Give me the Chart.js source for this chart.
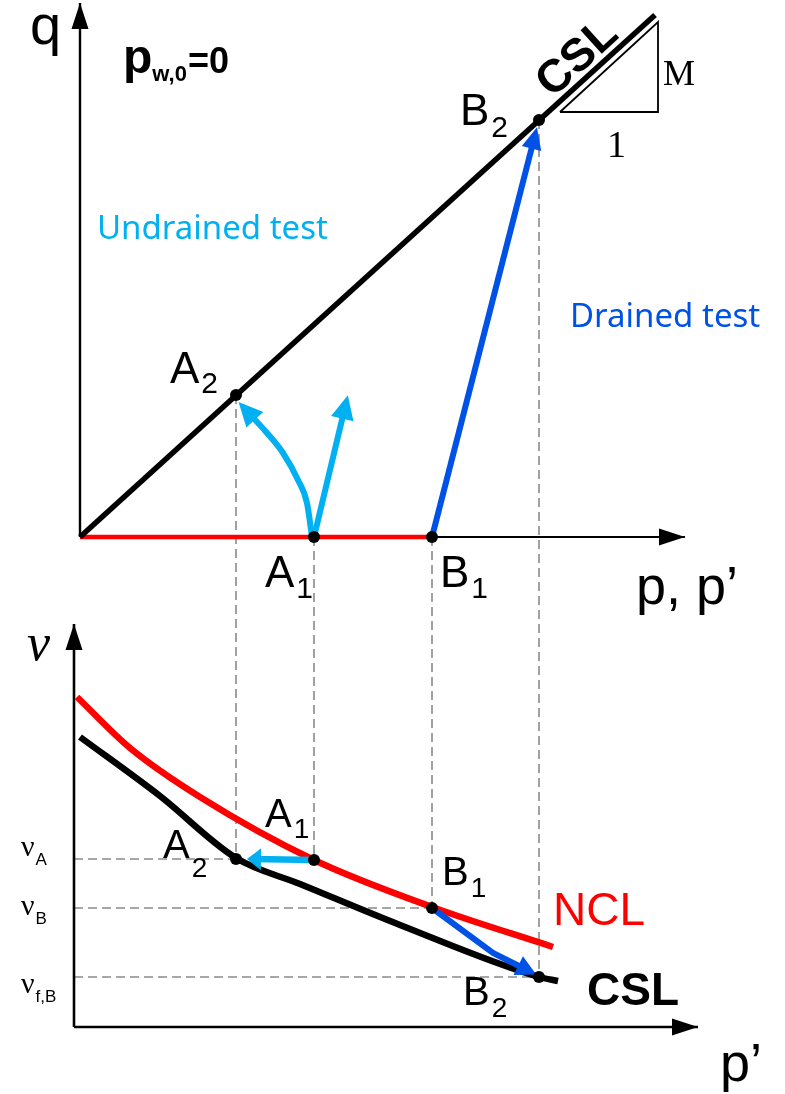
<!DOCTYPE html>
<html>
<head>
<meta charset="utf-8">
<script src="https://cdn.jsdelivr.net/npm/chart.js@4.4.1/dist/chart.umd.min.js"></script>
<style>
  html, body { margin: 0; padding: 0; background: #fff; }
  #wrap { position: relative; width: 785px; height: 1094px; }
</style>
</head>
<body>
<div id="wrap"><canvas id="chart" width="785" height="1094"></canvas></div>
<script>
'use strict'

/* ------------------------------ Data ------------------------------ */

// q - p plane (top panel)
const cslP = [0, 5.75]
const cslQ = [0, 5.22]
const isoP = [0, 3.52]
const isoQ = [0, 0]
const undrainedCurveP = [2.32, 2.27, 2.18, 2.03, 1.87, 1.64]
const undrainedCurveQ = [0, 0.34, 0.57, 0.84, 1.04, 1.29]
const undrainedAltP = [2.34, 2.66]
const undrainedAltQ = [0, 1.34]
const drainedP = [3.52, 4.55]
const drainedQ = [0, 4.02]
const slopeTriP = [4.80, 5.78, 5.78, 4.80]
const slopeTriQ = [4.25, 4.25, 5.15, 4.25]

// v - p' plane (bottom panel)
const nclP = [-0.03, 0.50, 1.20, 2.34, 3.52, 4.73]
const nclNu = [2.160, 2.058, 1.960, 1.834, 1.740, 1.660]
const cslNuP = [0.00, 0.80, 1.56, 2.20, 3.20, 4.59, 4.78]
const cslNu = [2.080, 1.962, 1.838, 1.786, 1.704, 1.600, 1.592]
const undrainedNuP = [2.34, 1.73]
const undrainedNu = [1.834, 1.836]
const drainedNuP = [3.52, 4.13, 4.49]
const drainedNu = [1.738, 1.648, 1.612]

// states A1, A2, B1, B2 in both planes
const stateNames = ['A1', 'A2', 'B1', 'B2']
const stateP = [2.34, 1.56, 3.52, 4.59]
const stateQ = [0, 1.42, 0, 4.17]
const stateNu = [1.834, 1.836, 1.738, 1.600]

// specific volume levels marked on the v axis
const nuLevelLabels = ['A', 'B', 'f,B']
const nuLevels = [1.836, 1.738, 1.600]
const nuLevelEnds = [1.56, 3.52, 4.59]

// axes
const qAxisP = [0, 0]
const qAxisQ = [0, 5.34]
const pAxisP = [0, 6.05]
const pAxisQ = [0, 0]
const nuAxisP = [-0.06, -0.06]
const nuAxisNu = [1.5, 2.306]
const pdAxisP = [-0.06, 6.18]
const pdAxisNu = [1.5, 1.5]

/* ------------------------------ Styles ------------------------------ */

const RED = '#ff0000'
const LIGHT_BLUE = '#00b0f0'
const BLUE = '#0052e6'
const GUIDE = '#8a8a8a'
const SANS = '"Liberation Sans", Arial, sans-serif'
const SERIF = '"Liberation Serif", "Times New Roman", serif'
const NOTO = '"Noto Sans", sans-serif'

/* ---------------------------------------------- */

function pts (xs, ys) {
  return xs.map((x, i) => ({ x: x, y: ys[i] }))
}

function line (xs, ys, axis, color, width, order, extra) {
  return Object.assign({
    data: pts(xs, ys),
    xAxisID: 'x',
    yAxisID: axis,
    borderColor: color,
    backgroundColor: color,
    borderWidth: width,
    pointRadius: 0,
    fill: false,
    tension: 0,
    order: order
  }, extra || {})
}

const axisArrow = { len: 26, half: 8.5, ext: 0 }

const datasets = []

// horizontal guides in the v - p' plane
nuLevels.forEach((lv, i) => {
  datasets.push(line([nuAxisP[0], nuLevelEnds[i]], [lv, lv], 'nu', GUIDE, 1.6, 20, { borderDash: [9, 5] }))
})

datasets.push(line(qAxisP, qAxisQ, 'q', '#000', 2.4, 18, { arrow: axisArrow }))
datasets.push(line(pAxisP, pAxisQ, 'q', '#000', 2.2, 18, { arrow: axisArrow }))
datasets.push(line(nuAxisP, nuAxisNu, 'nu', '#000', 2.6, 18, { arrow: axisArrow }))
datasets.push(line(pdAxisP, pdAxisNu, 'nu', '#000', 2.6, 18, { arrow: axisArrow }))

datasets.push(line(isoP, isoQ, 'q', RED, 4.5, 16))
datasets.push(line(cslP, cslQ, 'q', '#000', 5.5, 15))
datasets.push(line(slopeTriP, slopeTriQ, 'q', '#000', 1.8, 15))

datasets.push(line(cslNuP, cslNu, 'nu', '#000', 6.5, 15, { cubicInterpolationMode: 'monotone' }))
datasets.push(line(nclP, nclNu, 'nu', RED, 6.5, 14, { cubicInterpolationMode: 'monotone' }))

datasets.push(line(undrainedCurveP, undrainedCurveQ, 'q', LIGHT_BLUE, 6, 10, { cubicInterpolationMode: 'monotone', arrow: { len: 24, half: 11.5, ext: 8 } }))
datasets.push(line(undrainedAltP, undrainedAltQ, 'q', LIGHT_BLUE, 6, 10, { arrow: { len: 24, half: 11.5, ext: 8 } }))
datasets.push(line(drainedP, drainedQ, 'q', BLUE, 6, 10, { arrow: { len: 22, half: 10, ext: 8 } }))
datasets.push(line(undrainedNuP, undrainedNu, 'nu', LIGHT_BLUE, 6.5, 10, { arrow: { len: 14, half: 11, ext: 6 } }))
datasets.push(line(drainedNuP, drainedNu, 'nu', BLUE, 6, 10, { arrow: { len: 20, half: 10.5, ext: 8 } }))

// state dots
datasets.push(line(stateP, stateQ, 'q', '#000', 0, 1, { showLine: false, pointRadius: 6, pointBorderWidth: 0, pointBackgroundColor: '#000' }))
datasets.push(line(stateP, stateNu, 'nu', '#000', 0, 1, { showLine: false, pointRadius: 6, pointBorderWidth: 0, pointBackgroundColor: '#000' }))

/* ------------------------------ Plugins ------------------------------ */

// dashed drop lines joining each state in both planes
const guidePlugin = {
  id: 'guides',
  beforeDatasetsDraw (chart) {
    const ctx = chart.ctx
    const xs = chart.scales.x
    const qs = chart.scales.q
    const ns = chart.scales.nu
    ctx.save()
    ctx.strokeStyle = GUIDE
    ctx.lineWidth = 1.6
    ctx.setLineDash([9, 5])
    stateNames.forEach((name, i) => {
      const x = xs.getPixelForValue(stateP[i])
      ctx.beginPath()
      ctx.moveTo(x, qs.getPixelForValue(stateQ[i]))
      ctx.lineTo(x, ns.getPixelForValue(stateNu[i]))
      ctx.stroke()
    })
    ctx.restore()
  }
}

// arrow heads at the end of flagged datasets
const arrowPlugin = {
  id: 'arrows',
  afterDatasetDraw (chart, args) {
    const ds = chart.data.datasets[args.index]
    if (!ds.arrow) return
    const el = args.meta.data
    const b = el[el.length - 1]
    let ax = el[el.length - 2].x
    let ay = el[el.length - 2].y
    if (ds.cubicInterpolationMode === 'monotone' && b.cp1x !== undefined) {
      ax = b.cp1x
      ay = b.cp1y
    }
    const d = Math.hypot(b.x - ax, b.y - ay)
    const ux = (b.x - ax) / d
    const uy = (b.y - ay) / d
    const a = ds.arrow
    const tx = b.x + ux * a.ext
    const ty = b.y + uy * a.ext
    const bx = tx - ux * a.len
    const by = ty - uy * a.len
    const ctx = chart.ctx
    ctx.save()
    ctx.fillStyle = ds.borderColor
    ctx.beginPath()
    ctx.moveTo(tx, ty)
    ctx.lineTo(bx - uy * a.half, by + ux * a.half)
    ctx.lineTo(bx + uy * a.half, by - ux * a.half)
    ctx.closePath()
    ctx.fill()
    ctx.restore()
  }
}

// text: [x, baseline, segments, colour]
const labels = [
  [30, 44, [['q', '56px ' + SANS]]],
  [123, 73, [['p', 'bold 48px ' + SANS], ['w,0', 'bold 22px ' + SANS, 8], ['=0', 'bold 36px ' + SANS, 0, 1]]],
  [663, 85, [['M', '36px ' + SERIF]]],
  [607, 157, [['1', '38px ' + SERIF]]],
  [460, 125, [['B', '44px ' + SANS], ['2', '30px ' + SANS, 12, 2]]],
  [170, 383, [['A', '44px ' + SANS], ['2', '30px ' + SANS, 10, 2]]],
  [265, 587, [['A', '44px ' + SANS], ['1', '30px ' + SANS, 11, 2]]],
  [440, 587, [['B', '44px ' + SANS], ['1', '30px ' + SANS, 11, 2]]],
  [636, 604, [['p, p\u2019', '54px ' + SANS]]],
  [97, 239, [['Undrained test', '33px ' + NOTO]], LIGHT_BLUE],
  [570, 327, [['Drained test', '33px ' + NOTO]], BLUE],
  [27, 660, [['\u03bd', 'italic 52px ' + SERIF]]],
  [265, 827, [['A', '40px ' + SANS], ['1', '28px ' + SANS, 11, 2]]],
  [163, 858, [['A', '40px ' + SANS], ['2', '28px ' + SANS, 19, 2]]],
  [442, 885, [['B', '40px ' + SANS], ['1', '28px ' + SANS, 12, 2]]],
  [553, 925, [['NCL', '46px ' + SANS]], RED],
  [463, 1005, [['B', '40px ' + SANS], ['2', '28px ' + SANS, 12, 2]]],
  [587, 1005, [['CSL', 'bold 46px ' + SANS]]],
  [720, 1081, [['p\u2019', '54px ' + SANS]]]
]
const nuLabelBase = [856, 915, 993]

function drawRich (ctx, x, y, segs, color) {
  ctx.fillStyle = color || '#000'
  let cx = x
  segs.forEach(s => {
    ctx.font = s[1]
    cx += s[3] || 0
    ctx.fillText(s[0], cx, y + (s[2] || 0))
    cx += ctx.measureText(s[0]).width
  })
}

const labelPlugin = {
  id: 'labels',
  afterDraw (chart) {
    const ctx = chart.ctx
    ctx.save()
    ctx.textBaseline = 'alphabetic'
    ctx.textAlign = 'left'
    labels.forEach(l => drawRich(ctx, l[0], l[1], l[2], l[3]))

    nuLevelLabels.forEach((t, i) => {
      drawRich(ctx, 21, nuLabelBase[i], [['\u03bd', '30px ' + SERIF], [t, '17px ' + SANS, 9, 1]])
    })

    // rotated CSL label along the critical state line
    const xs = chart.scales.x
    const qs = chart.scales.q
    const x0 = xs.getPixelForValue(cslP[0])
    const y0 = qs.getPixelForValue(cslQ[0])
    const x1 = xs.getPixelForValue(cslP[1])
    const y1 = qs.getPixelForValue(cslQ[1])
    ctx.translate(xs.getPixelForValue(5.11), qs.getPixelForValue(4.64))
    ctx.rotate(Math.atan2(y1 - y0, x1 - x0))
    ctx.textAlign = 'center'
    ctx.font = 'bold 46px ' + SANS
    ctx.fillStyle = '#000'
    ctx.fillText('CSL', 0, -7)
    ctx.restore()
  }
}

/* ------------------------------ Chart ------------------------------ */

const chart = new Chart(document.getElementById('chart').getContext('2d'), {
  type: 'line',
  data: { datasets: datasets },
  options: {
    responsive: false,
    animation: false,
    devicePixelRatio: 1,
    layout: { padding: 0, autoPadding: false },
    plugins: {
      legend: { display: false },
      tooltip: { enabled: false }
    },
    scales: {
      x: { type: 'linear', min: -0.8, max: 7.05, display: false },
      q: { type: 'linear', min: -5.57, max: 5.37, display: false },
      nu: { type: 'linear', min: 1.366, max: 3.554, display: false }
    }
  },
  plugins: [guidePlugin, arrowPlugin, labelPlugin]
})
</script>
</body>
</html>
